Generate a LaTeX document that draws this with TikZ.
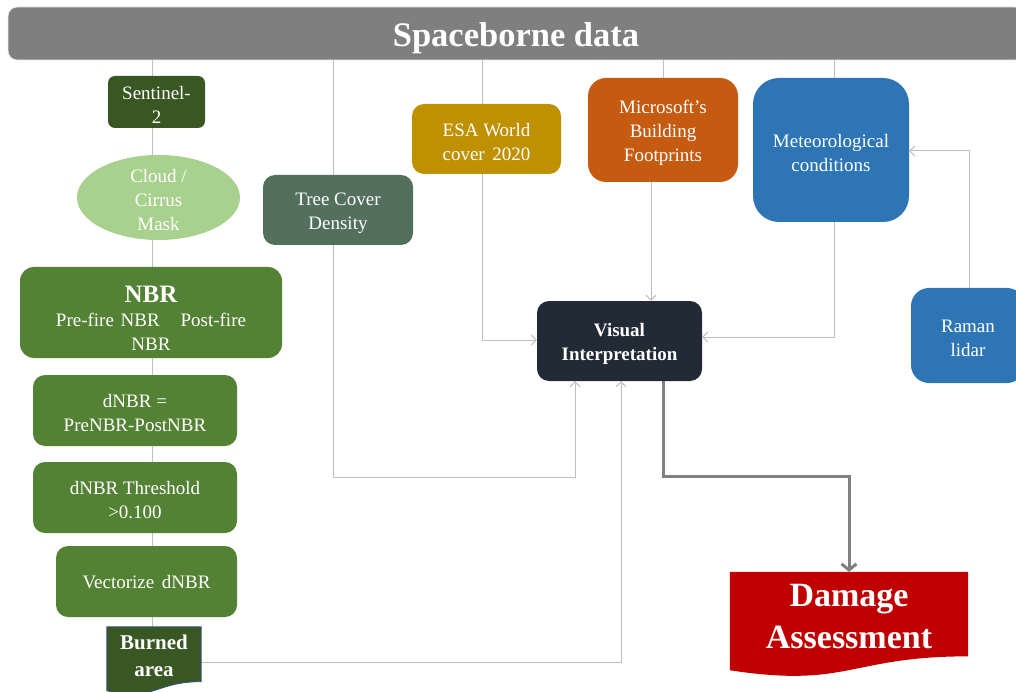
\documentclass[tikz,border=0pt]{standalone}
\usepackage{fontspec}
\setmainfont{Liberation Serif}
\usetikzlibrary{arrows.meta,calc,backgrounds,shapes.geometric}
\definecolor{barc}{HTML}{7F7F7F}
\definecolor{darkg}{HTML}{385723}
\definecolor{cloudc}{HTML}{A9D18E}
\definecolor{nbrc}{HTML}{548235}
\definecolor{treec}{HTML}{53705C}
\definecolor{esac}{HTML}{BF9000}
\definecolor{msc}{HTML}{C55A11}
\definecolor{bluec}{HTML}{2E75B6}
\definecolor{visc}{HTML}{222A35}
\definecolor{dmgc}{HTML}{C00000}
\definecolor{linec}{HTML}{BFBFBF}
\definecolor{thickc}{HTML}{808080}
\definecolor{bordc}{HTML}{2F528F}
\newcommand{\docfill}[2]{%
  \fill[#2] (#1.north west) -- (#1.north east)
    -- ($(#1.north east)!0.802!(#1.south east)$)
    .. controls ($(#1.north)!0.802!(#1.south)$) and ($(#1.north)!1.107!(#1.south)$)
    .. ($(#1.north west)!0.934!(#1.south west)$) -- cycle;}
\newcommand{\tstrut}{\rule{0pt}{19pt}}
\begin{document}
\begin{tikzpicture}[x=1pt,y=-1pt,
  box/.style={rectangle, rounded corners=#1, text=white, align=center, inner sep=0pt,
    font=\fontsize{19}{24}\selectfont},
  box/.default=10pt,
  conn/.style={draw=linec, line width=1pt, -{Straight Barb[length=5pt,width=10pt]}},
  plain/.style={draw=linec, line width=1pt},
  thickconn/.style={draw=thickc, line width=3pt, -{Straight Barb[length=6pt,width=15pt]}},
  txt/.style={text=white, align=center, inner sep=0pt}
]
\useasboundingbox (0,0) rectangle (1016,692);
\clip (0,0) rectangle (1016,692);

% title bar
\node[rectangle, rounded corners=9pt, fill=barc, draw=white!85!gray, line width=0.8pt,
  minimum width=1016pt, minimum height=53pt, text=white, inner sep=0pt,
  font=\fontsize{34.5}{38}\selectfont\bfseries] (bar) at (516,33.5) {\rule{0pt}{34pt}Spaceborne data};

% left column
\node[box=7pt, fill=darkg, minimum width=97pt, minimum height=52pt] (sentinel) at (156.5,102) {\tstrut Sentinel-\\2};
\node[ellipse, fill=cloudc, minimum width=163pt, minimum height=85pt, inner sep=0pt,
  label={[txt, font=\fontsize{19}{24}\selectfont]center:{\tstrut Cloud /\\Cirrus\\Mask}}] (cloud) at (158.5,197.5) {};
\node[box=14pt, fill=nbrc, minimum width=262pt, minimum height=91pt] (nbr) at (151,312.5)
  {{\rule{0pt}{28pt}\fontsize{25}{27}\selectfont\bfseries NBR}\\Pre-fire\hspace{0.35em}NBR\hspace{1.1em}Post-fire\\NBR};
\node[box=12pt, fill=nbrc, minimum width=204pt, minimum height=71pt] (dnbr) at (135,410.5) {\tstrut dNBR =\\PreNBR-PostNBR};
\node[box=12pt, fill=nbrc, minimum width=204pt, minimum height=71pt] (thr) at (135,497.5) {\tstrut dNBR Threshold\\>0.100};
\node[box=12pt, fill=nbrc, minimum width=181pt, minimum height=71pt] (vec) at (146.5,581.5) {\rule{0pt}{15pt}Vectorize\hspace{0.4em}dNBR};
\node[rectangle, minimum width=94pt, minimum height=68pt, inner sep=0pt] (burned) at (154,661) {};
\draw[bordc, line width=0.8pt, fill=darkg] (burned.north west) -- (burned.north east)
    -- ($(burned.north east)!0.802!(burned.south east)$)
    .. controls ($(burned.north)!0.802!(burned.south)$) and ($(burned.north)!1.107!(burned.south)$)
    .. ($(burned.north west)!0.934!(burned.south west)$) -- cycle;
\node[txt, font=\fontsize{21}{27}\selectfont\bfseries] (burnedtxt) at (154,656) {Burned\\area};

% data sources
\node[box=12pt, fill=treec, minimum width=150pt, minimum height=70pt] (tree) at (338,210) {\tstrut Tree Cover\\Density};
\node[box=12pt, fill=esac, minimum width=149pt, minimum height=70pt] (esa) at (486.5,139) {\tstrut ESA World\\cover\hspace{0.4em}2020};
\node[box=18pt, fill=msc, minimum width=150pt, minimum height=104pt] (ms) at (663,130) {\tstrut Microsoft’s\\Building\\Footprints};
\node[box=26pt, fill=bluec, minimum width=156pt, minimum height=144pt] (meteo) at (831,150) {\tstrut Meteorological\\conditions};
\node[box=18pt, fill=bluec, minimum width=114pt, minimum height=95pt] (raman) at (968,335.5) {\tstrut Raman\\lidar};
\node[box=12pt, fill=visc, minimum width=165pt, minimum height=80pt,
  font=\fontsize{19}{24}\selectfont\bfseries] (visual) at (619.5,341) {\tstrut Visual\\Interpretation};

% damage assessment
\node[rectangle, minimum width=238pt, minimum height=105pt, inner sep=0pt] (damage) at (849,624.5) {};
\docfill{damage}{dmgc}
\node[txt, font=\fontsize{34}{42}\selectfont\bfseries] (damagetxt) at (849,617) {Damage\\Assessment};

% connectors
\coordinate (sx) at (152,0);
\coordinate (tturn) at (333,477);
\coordinate (tarr) at (575,477);
\coordinate (ecorner) at (482,340);
\coordinate (mtop) at (663,0);
\coordinate (mbot) at (651,0);
\coordinate (metx) at (834,337);
\coordinate (rc) at (969,151);
\coordinate (bc) at (621,662);
\coordinate (vc) at (663,476);
\coordinate (vd) at (849,476);
\begin{scope}[on background layer]
\draw[plain] (bar.south -| sx) -- (burned.north -| sx);
\draw[conn] (bar.south -| tturn) -- (tturn) -- (tarr) -- (tarr |- visual.south);
\draw[conn] (bar.south -| ecorner) -- (ecorner) -- (ecorner -| visual.west);
\draw[plain] (bar.south -| mtop) -- (ms.north -| mtop);
\draw[conn] (ms.south -| mbot) -- (visual.north -| mbot);
\draw[plain] (bar.south -| metx) -- (meteo.north -| metx);
\draw[conn] (meteo.south -| metx) -- (metx) -- (metx -| visual.east);
\draw[conn] (raman.north -| rc) -- (rc) -- (rc -| meteo.east);
\draw[conn] (burned.east |- bc) -- (bc) -- (bc |- visual.south);
\draw[thickconn] (visual.south -| vc) -- (vc) -- (vd) -- (damage.north);
\end{scope}
\end{tikzpicture}
\end{document}
